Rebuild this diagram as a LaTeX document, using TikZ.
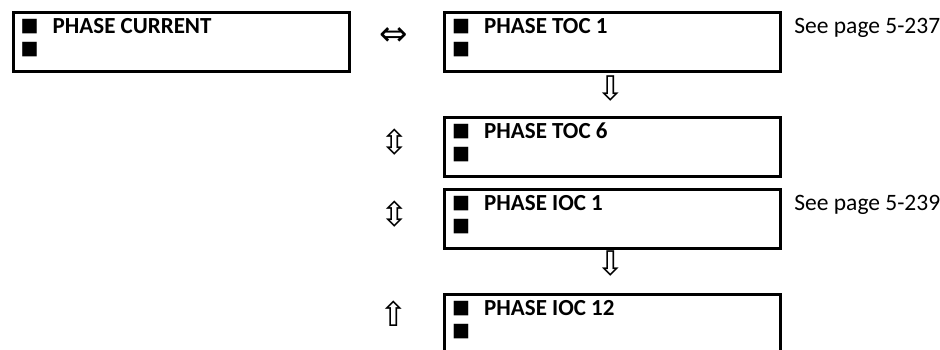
\documentclass[tikz,border=0pt]{standalone}
\usepackage{fontspec}
\setmainfont{Carlito}
\newfontfamily\symf{DejaVu Sans}
\tikzset{
  menubox/.style={draw, line width=3.2pt, rectangle, inner sep=0pt, minimum width=336pt, minimum height=59pt, anchor=north west},
  bul/.style={inner sep=0pt, font=\symf\fontsize{19}{19}\selectfont},
  ttl/.style={inner sep=0pt, anchor=base west, font=\fontsize{23}{24}\selectfont\bfseries},
  note/.style={inner sep=0pt, anchor=base west, font=\fontsize{23.5}{24}\selectfont},
  arrh/.style={inner sep=0pt, font=\symf\fontsize{34}{34}\selectfont},
  arrv/.style={inner sep=0pt, font=\symf\fontsize{34}{34}\selectfont},
}
\begin{document}
\begin{tikzpicture}[x=1pt,y=-1pt]
\useasboundingbox (0,0) rectangle (940,349);
\clip (0,0) rectangle (940,349);
% boxes
\node[menubox] (b1) at (11.5,11) {};
\node[menubox] (b2) at (443,11) {};
\node[menubox] (b3) at (443,116) {};
\node[menubox] (b4) at (443,187.5) {};
\node[menubox, minimum height=80pt] (b5) at (443,292.5) {};
% contents
\foreach \b/\t in {b1/PHASE CURRENT, b2/PHASE TOC 1, b3/PHASE TOC 6, b4/PHASE IOC 1, b5/PHASE IOC 12}{
  \node[bul] (\b-u1) at ([xshift=18pt,yshift=-16pt]\b.north west) {■};
  \node[bul] (\b-u2) at ([xshift=18pt,yshift=-39pt]\b.north west) {■};
  \node[ttl] (\b-t) at ([xshift=41pt,yshift=-22.5pt]\b.north west) {\t};
}
\node[note] (n1) at ([xshift=12pt]b2-t.base -| b2.east) {See page 5-237};
\node[note] (n2) at ([xshift=12pt]b4-t.base -| b4.east) {See page 5-239};
% arrows
\node[arrh] (a1) at (394,37) {⇔};
\node[arrv] (a2) at (611,89) {⇩};
\node[arrv] (a3) at (395,142) {⇳};
\node[arrv] (a4) at (395,214) {⇳};
\node[arrv] (a5) at (611,264) {⇩};
\node[arrv] (a6) at (394,314) {⇧};
\end{tikzpicture}
\end{document}
